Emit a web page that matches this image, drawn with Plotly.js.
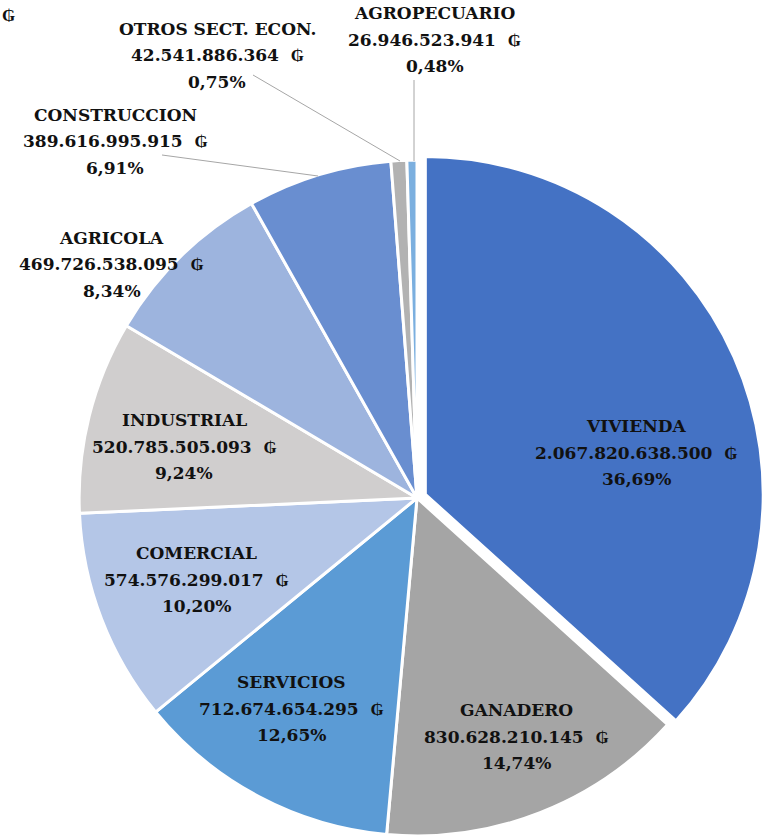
<!DOCTYPE html>
<html>
<head>
<meta charset="utf-8">
<script src="https://cdn.plot.ly/plotly-3.0.1.min.js"></script>
<style>
html,body{margin:0;padding:0;overflow:hidden;background:#fff;}
#chart{width:764px;height:860px;}
</style>
</head>
<body>
<div id="chart"></div>
<script>
// ---- data ----
var categories = ["VIVIENDA","GANADERO","SERVICIOS","COMERCIAL","INDUSTRIAL","AGRICOLA","CONSTRUCCION","OTROS SECT. ECON.","AGROPECUARIO"];
var amounts = [2067820638500, 830628210145, 712674654295, 574576299017, 520785505093, 469726538095, 389616995915, 42541886364, 26946523941];
var currency = "\u20B2";

// ---- styling / layout (not data) ----
var colors = ["#4472C4","#A5A5A5","#5B9BD5","#B4C6E7","#D0CECE","#9DB4DE","#698ED0","#B2B2B2","#7BAFDF"];
var pulls  = [0.027,0,0,0,0,0,0,0,0];
var W = 764, H = 860;
// label block centers in pixels: [x, y of first line]
var labelPos = [[636,426],[516,710],[291,682],[197,553],[184,420],[112,238],[115,115],[217,29],[435,13]];
var lineGap = 26.5;
var leaders = [[162,155,318,176],[253,75,400,161],[414,80,414,161]];

function fmtNum(v){ return String(v).replace(/\B(?=(\d{3})+(?!\d))/g, "."); }
var total = amounts.reduce(function(a,b){return a+b;},0);
function fmtPct(v){ return (v/total*100).toFixed(2).replace(".", ",") + "%"; }

var font = {family:"DejaVu Serif", size:17, color:"#111"};
var annotations = [];
categories.forEach(function(c,i){
  var lines = ["<b>"+c+"</b>", "<b>"+fmtNum(amounts[i])+"\u00a0\u00a0"+currency+"</b>", "<b>"+fmtPct(amounts[i])+"</b>"];
  lines.forEach(function(t,k){
    annotations.push({
      xref:"paper", yref:"paper",
      x: labelPos[i][0]/W, y: 1 - (labelPos[i][1] + k*lineGap)/H,
      xanchor:"center", yanchor:"middle",
      text:t, showarrow:false, font:font
    });
  });
});
// stray currency glyph at top-left edge
annotations.push({xref:"paper",yref:"paper",x:0,y:1-15/H,xanchor:"left",yanchor:"middle",
  text:"<b>"+currency+"</b>",showarrow:false,font:font});

var shapes = leaders.map(function(l){
  return {type:"line", xref:"paper", yref:"paper",
    x0:l[0]/W, y0:1-l[1]/H, x1:l[2]/W, y1:1-l[3]/H,
    line:{color:"#A6A6A6", width:1}};
});

var cx = 417, cy = 498, half = 347;
var trace = {
  type:"pie",
  labels:categories,
  values:amounts,
  sort:false,
  direction:"clockwise",
  rotation:0,
  pull:pulls,
  textinfo:"none",
  hoverinfo:"label+value+percent",
  marker:{colors:colors, line:{color:"#ffffff", width:3}},
  domain:{x:[(cx-half)/W, Math.min(1,(cx+half)/W)], y:[(H-cy-half)/H, (H-cy+half)/H]},
  showlegend:false
};

Plotly.newPlot("chart",[trace],{
  width:W, height:H,
  margin:{l:0,r:0,t:0,b:0},
  paper_bgcolor:"#fff",
  showlegend:false,
  annotations:annotations,
  shapes:shapes
},{displayModeBar:false, staticPlot:true});
</script>
</body>
</html>
